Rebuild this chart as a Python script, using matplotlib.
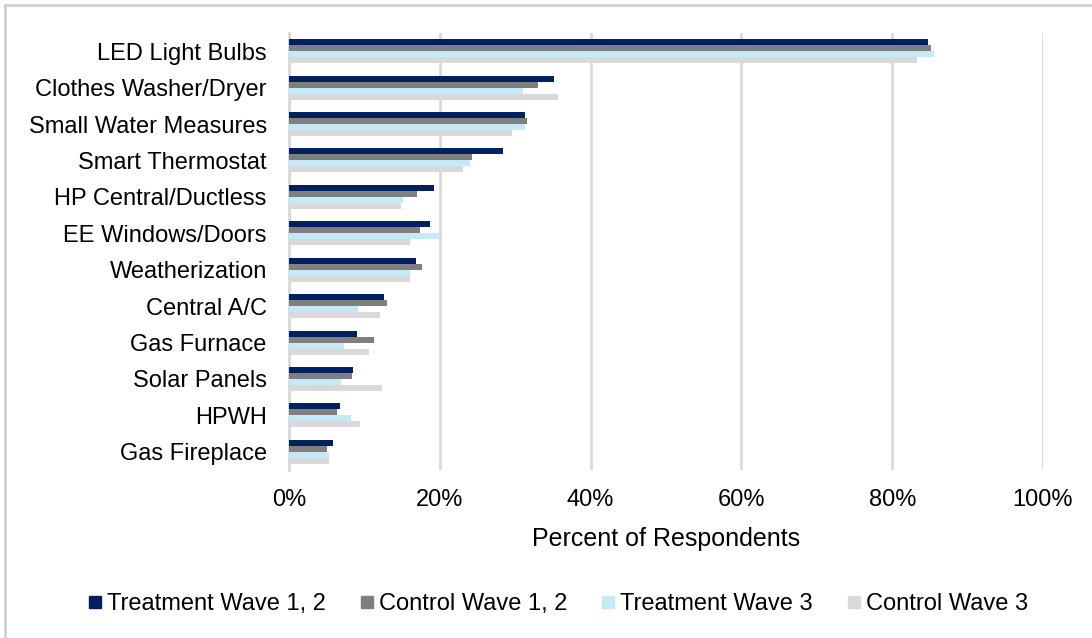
import matplotlib
matplotlib.use("Agg")
import matplotlib.pyplot as plt
import numpy as np
from matplotlib.lines import Line2D

plt.rcParams['font.family'] = ['Liberation Sans', 'DejaVu Sans']

categories = ["LED Light Bulbs", "Clothes Washer/Dryer", "Small Water Measures",
              "Smart Thermostat", "HP Central/Ductless", "EE Windows/Doors",
              "Weatherization", "Central A/C", "Gas Furnace", "Solar Panels",
              "HPWH", "Gas Fireplace"]
treatment_w12 = [84.7, 35.1, 31.3, 28.4, 19.2, 18.7, 16.8, 12.6, 9.0, 8.5, 6.7, 5.8]
control_w12   = [85.2, 33.0, 31.6, 24.3, 17.0, 17.4, 17.7, 13.0, 11.3, 8.4, 6.3, 5.1]
treatment_w3  = [85.6, 31.1, 31.3, 24.0, 15.1, 19.9, 16.1, 9.2, 7.3, 6.9, 8.2, 5.3]
control_w3    = [83.3, 35.7, 29.6, 23.1, 14.8, 16.0, 16.1, 12.1, 10.6, 12.4, 9.4, 5.3]
series_names = ["Treatment Wave 1, 2", "Control Wave 1, 2", "Treatment Wave 3", "Control Wave 3"]
colors = ["#002060", "#7f7f7f", "#c6e9f8", "#d9d9d9"]
xticks = [0, 20, 40, 60, 80, 100]
xtick_labels = ["0%", "20%", "40%", "60%", "80%", "100%"]

fig = plt.figure(figsize=(10.92, 6.38), dpi=100)
ax = fig.add_axes([289/1092, 1-470/638, (1043-289)/1092, (470-33)/638])

y = np.arange(len(categories))
h = 0.165
series = [treatment_w12, control_w12, treatment_w3, control_w3]
for i, (vals, c, name) in enumerate(zip(series, colors, series_names)):
    ax.barh(y + (i - 1.5) * h, vals, height=h, color=c, label=name, zorder=3)

ax.set_ylim(len(categories) - 0.5, -0.5)
ax.set_xlim(0, 100)
ax.set_yticks(y)
ax.set_yticklabels(categories, fontsize=17)
ax.set_xticks(xticks)
ax.set_xticklabels(xtick_labels, fontsize=17)
ax.tick_params(axis='both', length=0, colors='#000000')
ax.tick_params(axis='y', pad=16)
ax.tick_params(axis='x', pad=14)
ax.grid(axis='x', color='#d9d9d9', linewidth=2, zorder=0)
for s in ['top', 'right', 'bottom']:
    ax.spines[s].set_visible(False)
ax.spines['left'].set_color('#d9d9d9')
ax.spines['left'].set_linewidth(2)
ax.set_xlabel("Percent of Respondents", fontsize=18, labelpad=11)

handles = [Line2D([0], [0], marker='s', linestyle='none', markersize=9,
                  markerfacecolor=c, markeredgecolor=c) for c in colors]
fig.legend(handles, series_names, loc='center', bbox_to_anchor=(558/1092, 1-604/638),
           ncol=4, frameon=False, fontsize=17, handlelength=0.6, handletextpad=0.2,
           columnspacing=1.45)

# outer border (left and top visible)
fig.add_artist(Line2D([5/1092, 5/1092], [0, 1-5/638], transform=fig.transFigure,
                      color='#d0d0d0', linewidth=2))
fig.add_artist(Line2D([5/1092, 1], [1-5/638, 1-5/638], transform=fig.transFigure,
                      color='#d0d0d0', linewidth=2))

fig.savefig("out.png", dpi=100)
